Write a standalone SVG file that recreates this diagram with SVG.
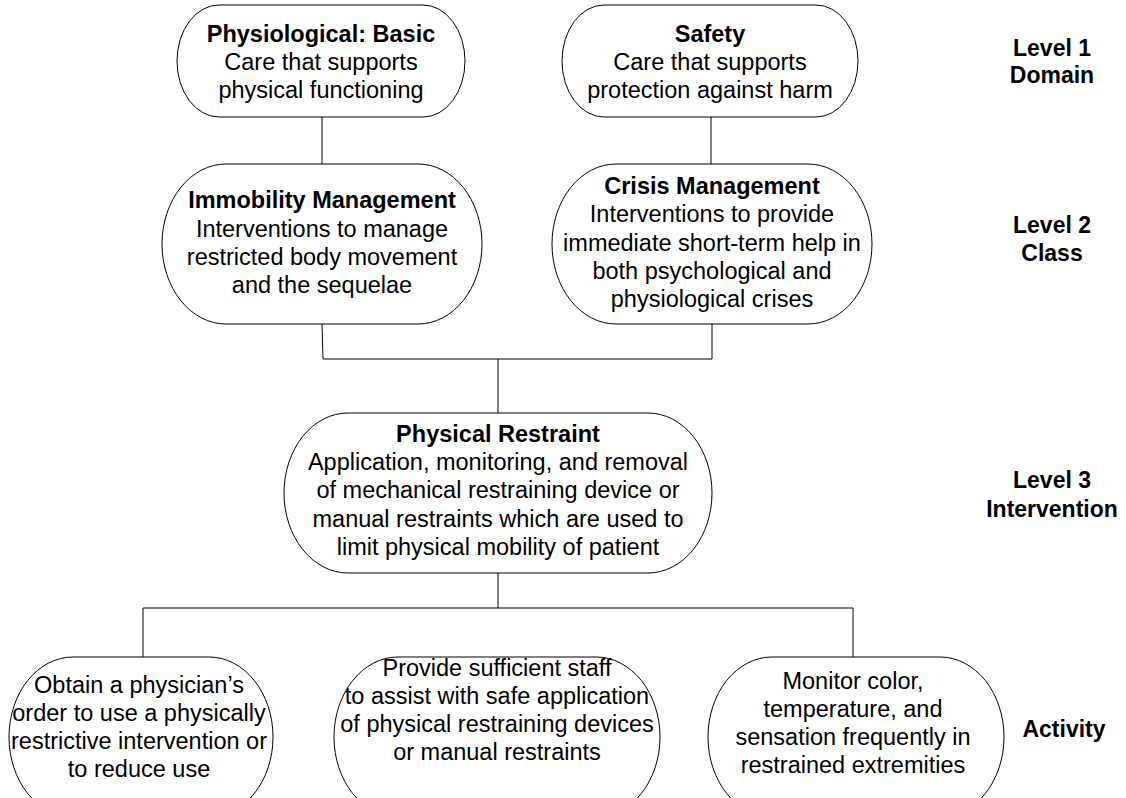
<svg xmlns="http://www.w3.org/2000/svg" width="1126" height="798" viewBox="0 0 1126 798">
<style>
.node{fill:#fff;stroke:#000;stroke-width:1}
.t{font-family:"Liberation Sans",Arial,sans-serif;font-size:23.5px;fill:#000;text-anchor:middle}
.b{font-weight:bold}
.lbl{font-family:"Liberation Sans",Arial,sans-serif;font-size:23px;font-weight:bold;fill:#000;text-anchor:middle}
.conn{fill:none;stroke:#000;stroke-width:1}
</style>
<rect width="1126" height="798" fill="#fff"/>
<g id="connectors">
<line class="conn" x1="322" y1="117" x2="322" y2="164"/>
<line class="conn" x1="711" y1="117" x2="711" y2="164"/>
<polyline class="conn" points="322,324 323,359 712,359 712,324"/>
<line class="conn" x1="498" y1="359" x2="498" y2="413"/>
<line class="conn" x1="498" y1="573" x2="498" y2="608"/>
<polyline class="conn" points="143,657 143,608 853,608 853,657"/>
</g>
<g id="n-physiological">
<rect class="node" x="177" y="5" width="288" height="112" rx="42" ry="56"/>
<text class="t b" x="321" y="42">Physiological: Basic</text>
<text class="t" x="321" y="70">Care that supports</text>
<text class="t" x="321" y="98">physical functioning</text>
</g>
<g id="n-safety">
<rect class="node" x="562" y="5" width="296" height="112" rx="42" ry="56"/>
<text class="t b" x="710" y="42">Safety</text>
<text class="t" x="710" y="70">Care that supports</text>
<text class="t" x="710" y="98">protection against harm</text>
</g>
<g id="n-immobility">
<rect class="node" x="162" y="164" width="320" height="160" rx="64" ry="80"/>
<text class="t b" x="322" y="208">Immobility Management</text>
<text class="t" x="322" y="237">Interventions to manage</text>
<text class="t" x="322" y="265">restricted body movement</text>
<text class="t" x="322" y="293">and the sequelae</text>
</g>
<g id="n-crisis">
<rect class="node" x="552" y="164" width="320" height="160" rx="64" ry="80"/>
<text class="t b" x="712" y="194">Crisis Management</text>
<text class="t" x="712" y="222">Interventions to provide</text>
<text class="t" x="712" y="251">immediate short-term help in</text>
<text class="t" x="712" y="279">both psychological and</text>
<text class="t" x="712" y="307">physiological crises</text>
</g>
<g id="n-restraint">
<rect class="node" x="284" y="413" width="428" height="160" rx="64" ry="80"/>
<text class="t b" x="498" y="442">Physical Restraint</text>
<text class="t" x="498" y="470">Application, monitoring, and removal</text>
<text class="t" x="498" y="498">of mechanical restraining device or</text>
<text class="t" x="498" y="527">manual restraints which are used to</text>
<text class="t" x="498" y="555">limit physical mobility of patient</text>
</g>
<g id="n-obtain">
<rect class="node" x="9" y="657" width="264" height="160" rx="64" ry="80"/>
<text class="t" x="139" y="693">Obtain a physician’s</text>
<text class="t" x="139" y="721">order to use a physically</text>
<text class="t" x="139" y="749">restrictive intervention or</text>
<text class="t" x="139" y="777">to reduce use</text>
</g>
<g id="n-staff">
<rect class="node" x="334" y="657" width="326" height="160" rx="64" ry="80"/>
<text class="t" x="497" y="676">Provide sufficient staff</text>
<text class="t" x="497" y="704">to assist with safe application</text>
<text class="t" x="497" y="732">of physical restraining devices</text>
<text class="t" x="497" y="760">or manual restraints</text>
</g>
<g id="n-monitor">
<rect class="node" x="708" y="657" width="296" height="160" rx="64" ry="80"/>
<text class="t" x="853" y="689">Monitor color,</text>
<text class="t" x="853" y="717">temperature, and</text>
<text class="t" x="853" y="745">sensation frequently in</text>
<text class="t" x="853" y="773">restrained extremities</text>
</g>
<g id="levels">
<text class="lbl" x="1052" y="56">Level 1</text>
<text class="lbl" x="1052" y="83">Domain</text>
<text class="lbl" x="1052" y="233">Level 2</text>
<text class="lbl" x="1052" y="261">Class</text>
<text class="lbl" x="1052" y="488">Level 3</text>
<text class="lbl" x="1052" y="517">Intervention</text>
<text class="lbl" x="1064" y="737">Activity</text>
</g>
</svg>
